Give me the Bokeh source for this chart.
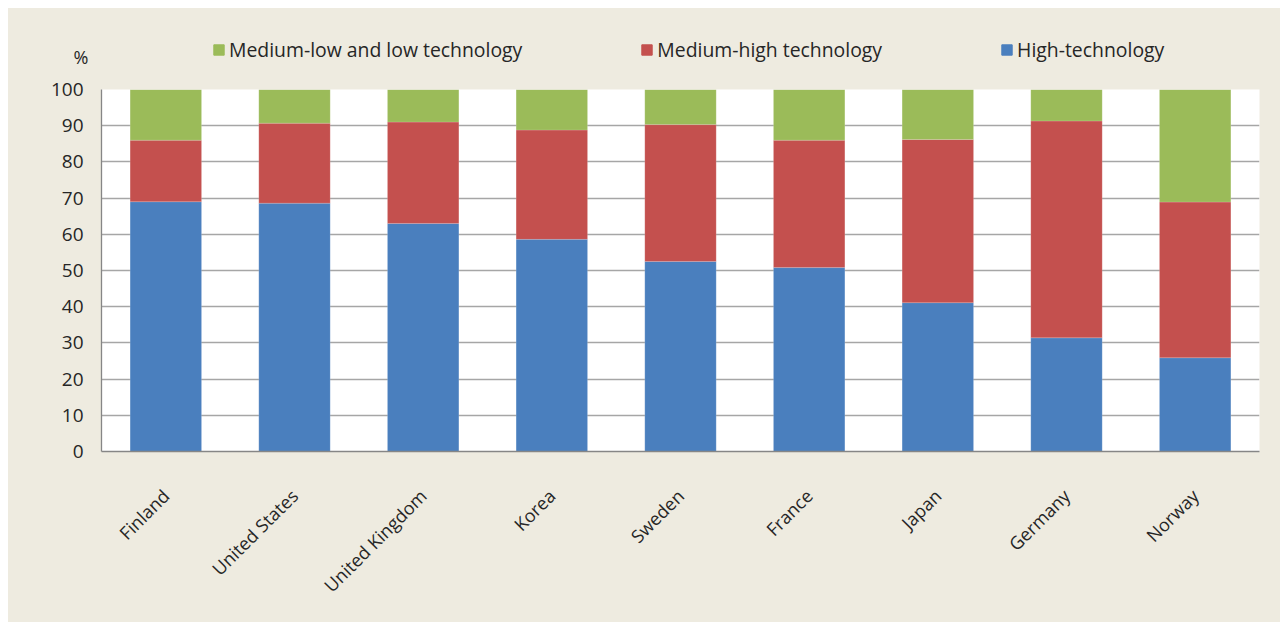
import math
from bokeh.plotting import figure
from bokeh.layouts import column
from bokeh.models import FactorRange, FixedTicker, Legend, LegendItem, Range1d, ColumnDataSource
from bokeh.embed import file_html
from bokeh.resources import INLINE

countries = ["Finland", "United States", "United Kingdom", "Korea", "Sweden",
             "France", "Japan", "Germany", "Norway"]
high_tech = [69.0, 68.6, 63.0, 58.6, 52.5, 50.8, 41.1, 31.4, 25.9]
medium_high = [17.0, 22.1, 28.0, 30.2, 37.8, 35.2, 45.1, 59.9, 43.0]
medium_low_low = [14.0, 9.3, 9.0, 11.2, 9.7, 14.0, 13.8, 8.7, 31.1]
series_names = ["High-technology", "Medium-high technology", "Medium-low and low technology"]
y_ticks = [0, 10, 20, 30, 40, 50, 60, 70, 80, 90, 100]
unit_label = "%"

BG = "#EEEBE0"
COLORS = ["#4A7FBE", "#C4504E", "#9BBB59"]
FONT = "Open Sans"
TXT = "#262626"
W = 1272

source = ColumnDataSource(dict(x=countries, h=high_tech, m=medium_high, l=medium_low_low))
x_range = FactorRange(*countries, range_padding=0)

# ---- header strip: the space above the 100 line (legend and unit label) ----
hdr = figure(width=W, height=64, x_range=x_range, y_range=Range1d(101, 165),
             output_backend="svg", toolbar_location=None, x_axis_type=None,
             background_fill_color=None, border_fill_color=BG,
             min_border_left=93, min_border_right=21, min_border_top=0, min_border_bottom=0)
hdr.outline_line_color = None
hdr.grid.visible = False
hr = hdr.vbar_stack(["h", "m", "l"], x="x", width=0.555, source=source, color=COLORS)
items = [LegendItem(label=series_names[2], renderers=[hr[2]]),
         LegendItem(label=series_names[1], renderers=[hr[1]]),
         LegendItem(label=series_names[0], renderers=[hr[0]])]
legend = Legend(items=items, orientation="horizontal", location=(111, 9),
                background_fill_alpha=0, border_line_color=None, padding=0, margin=0,
                spacing=118, glyph_width=13, glyph_height=13, label_standoff=4,
                label_text_font=FONT, label_text_font_size="19.4px", label_text_color=TXT,
                label_height=13)
hdr.add_layout(legend, "center")
hdr.yaxis.ticker = FixedTicker(ticks=[117])
hdr.yaxis.major_label_overrides = {117: unit_label}
hdr.yaxis.axis_line_color = None
hdr.yaxis.major_tick_line_color = None
hdr.yaxis.minor_tick_line_color = None
hdr.yaxis.major_label_standoff = 7
hdr.yaxis.major_label_text_font = FONT
hdr.yaxis.major_label_text_font_size = "18px"
hdr.yaxis.major_label_text_color = TXT

# ---- main chart ----
p = figure(x_range=x_range, y_range=Range1d(0, 100),
           width=W, height=550, output_backend="svg", toolbar_location=None,
           background_fill_color="white", border_fill_color=BG,
           min_border_left=93, min_border_right=21, min_border_top=17, min_border_bottom=171)
p.outline_line_color = None

p.vbar_stack(["h", "m", "l"], x="x", width=0.555, source=source, color=COLORS,
             line_color="white", line_alpha=0.3, line_width=0.5)

p.yaxis.ticker = FixedTicker(ticks=y_ticks)
p.ygrid.ticker = FixedTicker(ticks=y_ticks)
p.ygrid.grid_line_color = "#A6A6A6"
p.ygrid.grid_line_width = 1.3
p.xgrid.grid_line_color = None
for ax in (p.xaxis, p.yaxis):
    ax.axis_line_color = "#868686"
    ax.axis_line_width = 1.3
    ax.major_tick_line_color = None
    ax.minor_tick_line_color = None
    ax.major_label_text_font = FONT
    ax.major_label_text_color = TXT
p.yaxis.major_label_text_font_size = "19px"
p.xaxis.major_label_text_font_size = "18px"
p.yaxis.major_label_standoff = 12
p.xaxis.major_label_orientation = math.pi / 4
p.xaxis.major_label_standoff = 35

layout = column(hdr, p, spacing=0)
layout.margin = (8, 7, 1, 8)
layout.styles = {"background-color": BG}
open("out.html", "w").write(file_html(layout, INLINE))
